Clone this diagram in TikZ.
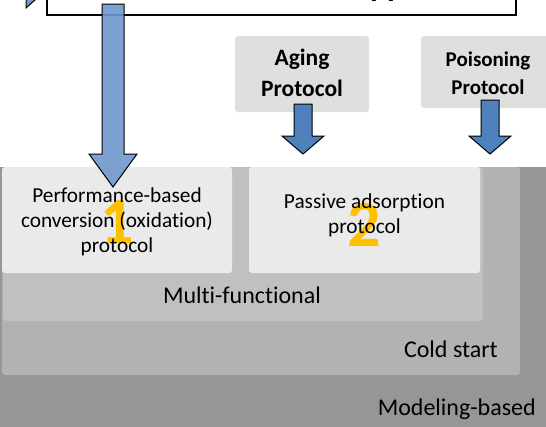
\documentclass[tikz,border=0pt]{standalone}
\usepackage{fontspec}
\setmainfont{Carlito}[Ligatures={NoCommon}]
\definecolor{modc}{HTML}{969696}
\definecolor{coldc}{HTML}{B2B2B2}
\definecolor{multic}{HTML}{C0C0C0}
\definecolor{boxc}{HTML}{EAEAEA}
\definecolor{protc}{HTML}{DFDFDF}
\definecolor{bluea}{HTML}{6F97CB}
\definecolor{blueb}{HTML}{4F81BD}
\definecolor{numc}{HTML}{FFC000}
\begin{document}
\begin{tikzpicture}[x=1pt,y=-1pt,
  layerbox/.style={fill=#1, draw=none, rounded corners=3pt},
  biglabel/.style={font=\fontsize{24}{29}\selectfont, text=black, inner sep=0pt},
  boxtext/.style={font=\fontsize{21.3}{25}\selectfont, align=center, inner sep=0pt},
  digit/.style={font=\fontsize{66}{66}\selectfont\bfseries, text=numc, inner sep=0pt},
  blockarrow/.style={fill=#1, draw=black, line width=1pt, line join=miter}]
\useasboundingbox (0,0) rectangle (546,426);
\clip (0,0) rectangle (546,426);

% top box (cropped)
\draw[line width=1.3pt, fill=white] (47,-20) rectangle (516,15);
\node[font=\fontsize{32}{32}\selectfont\bfseries, anchor=base west, inner sep=0pt] (toptext) at (354,-3.8) {approach};
\fill[bluea, draw=black, line width=1pt] (26,-3) -- (38.4,-3) -- (26,8) -- cycle;

% layers
\fill[modc] (0,167) rectangle (556,436);
\path[layerbox=coldc] (2,167) rectangle (520,375);
\path[layerbox=multic] (3,167) rectangle (483,321);

% inner boxes
\path[layerbox=boxc] (2,167) rectangle (232,273);
\path[layerbox=boxc] (249,167) rectangle (480,273);
\node[digit] (n1) at (117,222) {1};
\node[digit] (n2) at (364.5,225) {2};
\node[boxtext] (t1) at (117,221.5) {Performance-based\\conversion (oxidation)\\protocol};
\node[boxtext] (t2) at (364.5,215) {Passive adsorption\\protocol};

% layer labels
\node[biglabel, anchor=base] (mf) at (242,303) {Multi-functional};
\node[biglabel, anchor=base east] (cs) at (498,357) {Cold start};
\node[biglabel, anchor=base east] (mb) at (536,415) {Modeling-based};

% protocol boxes
\path[layerbox=protc] (235,36) rectangle (369,112);
\path[layerbox=protc] (421,36) rectangle (556,108);
\node[font=\fontsize{23.5}{31}\selectfont\bfseries, align=center, inner sep=0pt] (aging) at (302,73) {Aging\\Protocol};
\node[font=\fontsize{21}{28}\selectfont\bfseries, align=center, inner sep=0pt] (pois) at (488,73) {Poisoning\\Protocol};

% arrows
\path[blockarrow=blueb] (294,104) -- (312,104) -- (312,136) -- (324,136) -- (303,154) -- (282,136) -- (294,136) -- cycle;
\path[blockarrow=blueb] (481,100) -- (499,100) -- (499,136) -- (511,136) -- (490,154) -- (469,136) -- (481,136) -- cycle;
\path[blockarrow=bluea, fill opacity=0.9] (102,4) -- (124,4) -- (124,154) -- (137,154) -- (113,187) -- (89,154) -- (102,154) -- cycle;
\end{tikzpicture}
\end{document}
